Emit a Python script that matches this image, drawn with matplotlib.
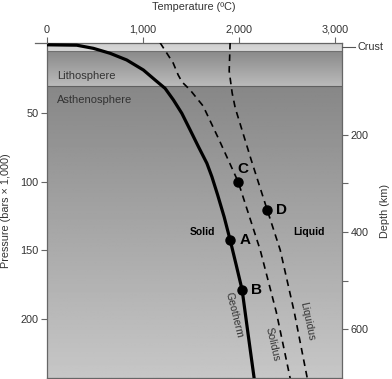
import numpy as np
import matplotlib.pyplot as plt
from matplotlib.colors import LinearSegmentedColormap

plt.rcParams["font.family"] = ["Liberation Sans", "DejaVu Sans"]

# temperature (deg C) / pressure (kbar)
geo_T = [0, 315, 488, 661, 835, 1008, 1130, 1234, 1321, 1408, 1495, 1581,
         1669, 1721, 1781, 1849, 1911, 1974, 2036, 2099, 2161]
geo_p = [0, 0.3, 2.6, 6.2, 11.1, 18.4, 25.7, 31.8, 40.3, 50, 62.2, 74.4,
         86.5, 96.3, 109.6, 125.7, 142.5, 160.7, 179, 211.8, 243.5]

sol_T = [1182, 1318, 1370, 1411, 1495, 1630, 1797, 1995, 2224, 2391, 2536]
sol_p = [-1.5, 13.3, 22, 27.2, 33, 44.7, 69.5, 100.1, 149.8, 195, 243.5]

liq_T = [1911, 1901, 1932, 1964, 2130, 2297, 2432, 2578, 2714]
liq_p = [-1.5, 19.1, 35.2, 46.1, 84, 120.6, 149.8, 195, 243.5]

points = {"A": (1911, 142.5), "B": (2036, 179), "C": (1995, 100.1), "D": (2297, 120.6)}
label_pos = {"A": (2068, 142.5), "B": (2182, 179), "C": (2047, 90.7), "D": (2443, 120.6)}

temp_ticks = [0, 1000, 2000, 3000]
temp_labels = ["0", "1,000", "2,000", "3,000"]
pres_ticks = [50, 100, 150, 200]
depth_ticks = [200, 300, 400, 500, 600]
depth_labels = ["200", "", "400", "", "600"]

crust_base = 4.8
litho_base = 30.2
T_MAX, P_TOP, P_BOT = 3075, -1.3, 243.2
TXT = "#333333"
LINE = "#666666"


def depth_to_pressure(d):
    return (0.485 * d - 6.8) / 1.37


fig = plt.figure(figsize=(3.92, 3.79), dpi=100)
ax = fig.add_axes([46.5 / 392, 1 / 379, (342 - 46.5) / 392, (378 - 43) / 379])

grey = LinearSegmentedColormap.from_list("g", ["#000000", "#ffffff"])
grad = np.linspace(0, 1, 256).reshape(-1, 1)


def band(top, bot, c0, c1):
    ax.imshow(c0 + (c1 - c0) * grad, cmap=grey, vmin=0, vmax=1, aspect="auto",
              extent=[0, T_MAX, bot, top], origin="upper", zorder=0)


band(P_TOP, crust_base, 0.80, 0.85)
band(crust_base, litho_base, 0.54, 0.73)
band(litho_base, P_BOT, 0.53, 0.78)
ax.axhline(crust_base, color="#707070", lw=0.8, zorder=1)
ax.axhline(litho_base, color="#606060", lw=0.8, zorder=1)

ax.plot(geo_T, geo_p, color="black", lw=2.3, zorder=3, solid_joinstyle="round")
ax.plot(sol_T, sol_p, color="black", lw=1.2, ls=(0, (4, 3)), zorder=3)
ax.plot(liq_T, liq_p, color="black", lw=1.2, ls=(0, (4, 3)), zorder=3)

for name, (t, p) in points.items():
    ax.plot(t, p, "o", color="black", ms=6.5, zorder=4)
for name, (t, p) in label_pos.items():
    ax.text(t, p, name, fontsize=11, fontweight="bold", ha="center", va="center", zorder=5)

ax.text(1620, 136.8, "Solid", fontsize=7.5, fontweight="bold", ha="center", va="center")
ax.text(2734, 136.8, "Liquid", fontsize=7.5, fontweight="bold", ha="center", va="center")
ax.text(1948, 197, "Geotherm", fontsize=7.6, color=TXT, rotation=-76,
        ha="center", va="center")
ax.text(2354, 218.6, "Solidus", fontsize=7.6, color=TXT, rotation=-77,
        ha="center", va="center")
ax.text(2714, 202, "Liquidus", fontsize=7.6, color=TXT, rotation=-78,
        ha="center", va="center")
ax.text(110, 22.8, "Lithosphere", fontsize=8, color=TXT, va="center")
ax.text(110, 40.5, "Asthenosphere", fontsize=8, color=TXT, va="center")

ax.set_xlim(0, T_MAX)
ax.set_ylim(P_BOT, P_TOP)

ax.xaxis.tick_top()
ax.set_xticks(temp_ticks, temp_labels)
ax.set_yticks(pres_ticks)
ax.tick_params(axis="both", labelsize=7.8, colors=LINE, labelcolor=TXT,
               length=4, width=0.8, direction="out", pad=1.8)
for s in ax.spines.values():
    s.set_color(LINE)
    s.set_linewidth(0.9)
ax.set_ylabel("Pressure (bars × 1,000)", fontsize=7.8, color=TXT)
ax.yaxis.set_label_coords((11 - 46.5) / 295.5, 0.5)

ax2 = ax.twinx()
ax2.set_ylim(P_BOT, P_TOP)
ax2.set_yticks([depth_to_pressure(d) for d in depth_ticks], depth_labels)
ax2.tick_params(labelsize=7.8, colors=LINE, labelcolor=TXT, length=4, width=0.8, pad=2)
for s in ax2.spines.values():
    s.set_visible(False)
ax2.set_ylabel("Depth (km)", fontsize=7.8, color=TXT)
ax2.yaxis.set_label_coords((380 - 46.5) / 295.5, 0.5)

fig.text(194 / 392, 1 - 7 / 379, "Temperature (ºC)", fontsize=7.8, color=TXT,
         ha="center", va="center")

# crust pointer and top-left line extension
fig.add_artist(plt.Line2D([342 / 392, 355 / 392], [1 - 47 / 379] * 2, color="#555555", lw=0.8))
fig.text(358 / 392, 1 - 47 / 379, "Crust", fontsize=7.8, color=TXT, va="center")
fig.add_artist(plt.Line2D([35 / 392, 46.5 / 392], [1 - 43 / 379] * 2, color=LINE, lw=0.9))

fig.savefig("out.png", dpi=100)
